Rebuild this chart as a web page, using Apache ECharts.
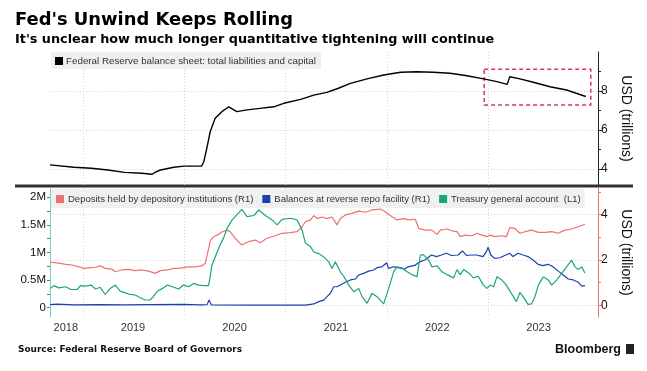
<!DOCTYPE html>
<html><head><meta charset="utf-8">
<script src="https://cdn.jsdelivr.net/npm/echarts@6/dist/echarts.min.js"></script>
<style>html,body{margin:0;padding:0;background:#fff}#c{width:647px;height:371px}</style>
</head><body><div id="c"></div>
<script>
// ---- data ----
const balanceSheet = [
 ['2018-09-05',4.21],['2018-11-30',4.09],['2019-02-01',4.04],['2019-04-01',3.95],['2019-06-01',3.83],
 ['2019-08-01',3.78],['2019-09-08',3.73],['2019-09-20',3.84],['2019-10-08',3.95],['2019-11-25',4.09],['2020-01-01',4.15],
 ['2020-03-04',4.15],['2020-03-12',4.37],['2020-03-24',5.14],['2020-04-04',5.91],['2020-04-22',6.60],
 ['2020-05-16',6.94],['2020-06-10',7.19],['2020-07-09',6.94],['2020-08-15',7.03],['2020-10-01',7.11],
 ['2020-11-19',7.19],['2020-12-25',7.37],['2021-02-24',7.57],['2021-04-12',7.79],['2021-05-29',7.93],
 ['2021-07-10',8.14],['2021-08-22',8.39],['2021-10-21',8.62],['2021-12-20',8.82],['2022-02-19',8.96],
 ['2022-04-18',8.99],['2022-06-17',8.96],['2022-08-16',8.91],['2022-10-16',8.78],['2022-12-15',8.62],
 ['2023-02-01',8.48],['2023-03-10',8.34],['2023-03-19',8.73],['2023-04-25',8.62],['2023-06-12',8.45],
 ['2023-08-11',8.22],['2023-10-10',8.05],['2023-12-18',7.72]
];
const deposits = [
 ['2018-09-05',1.90],['2018-10-07',1.86],['2018-11-01',1.81],['2018-11-24',1.78],['2018-12-18',1.70],
 ['2019-01-05',1.63],['2019-01-30',1.66],['2019-02-17',1.68],['2019-03-05',1.74],['2019-03-23',1.63],
 ['2019-04-16',1.60],['2019-04-28',1.48],['2019-05-22',1.56],['2019-06-15',1.59],['2019-07-09',1.53],
 ['2019-08-02',1.56],['2019-08-26',1.51],['2019-09-19',1.41],['2019-10-08',1.53],['2019-11-01',1.56],
 ['2019-11-25',1.63],['2019-12-13',1.63],['2019-12-31',1.66],['2020-01-18',1.70],['2020-02-11',1.70],
 ['2020-03-06',1.75],['2020-03-17',1.85],['2020-03-30',2.52],['2020-04-04',2.85],['2020-04-16',3.03],
 ['2020-05-04',3.13],['2020-05-17',3.25],['2020-06-04',3.32],['2020-06-15',3.25],['2020-07-03',2.96],
 ['2020-07-27',2.66],['2020-08-20',2.81],['2020-09-13',2.88],['2020-10-01',2.76],['2020-10-25',2.96],
 ['2020-11-24',3.07],['2020-12-18',3.18],['2021-01-18',3.21],['2021-02-11',3.25],['2021-03-01',3.47],
 ['2021-03-13',3.69],['2021-03-31',3.76],['2021-04-12',3.96],['2021-04-24',3.83],['2021-05-12',3.90],
 ['2021-05-30',3.83],['2021-06-17',3.90],['2021-07-05',3.55],['2021-07-17',3.83],['2021-08-04',3.99],
 ['2021-08-28',4.06],['2021-09-21',4.16],['2021-10-15',4.11],['2021-11-08',4.21],['2021-12-08',4.25],
 ['2021-12-26',4.13],['2022-01-19',3.91],['2022-02-06',3.77],['2022-03-02',3.83],['2022-03-20',3.77],
 ['2022-04-13',3.80],['2022-04-25',3.40],['2022-05-19',3.32],['2022-06-12',3.32],['2022-06-30',3.13],
 ['2022-07-12',3.32],['2022-08-05',3.37],['2022-08-23',3.29],['2022-09-10',3.25],['2022-09-22',3.03],
 ['2022-10-10',3.10],['2022-11-03',3.07],['2022-11-21',3.18],['2022-12-09',3.10],['2022-12-27',3.03],
 ['2023-01-08',3.10],['2023-01-26',3.03],['2023-02-19',3.07],['2023-03-07',3.03],['2023-03-19',3.43],
 ['2023-04-06',3.40],['2023-04-25',3.18],['2023-05-13',3.25],['2023-06-06',3.32],['2023-06-30',3.22],
 ['2023-07-25',3.22],['2023-08-18',3.25],['2023-09-10',3.18],['2023-10-04',3.32],['2023-10-28',3.37],
 ['2023-11-21',3.47],['2023-12-15',3.58]
];
const reverseRepo = [
 ['2018-09-05',0.03],['2018-10-01',0.05],['2018-12-01',0.02],['2019-03-01',0.03],['2019-06-01',0.02],
 ['2019-09-01',0.03],['2019-12-31',0.04],['2020-03-01',0.02],['2020-03-24',0.03],['2020-03-31',0.23],
 ['2020-04-08',0.02],['2020-09-01',0.01],['2021-03-13',0.01],['2021-04-12',0.06],['2021-04-30',0.16],
 ['2021-05-18',0.23],['2021-05-30',0.38],['2021-06-11',0.53],['2021-06-23',0.82],['2021-07-05',0.82],
 ['2021-07-17',0.90],['2021-08-04',1.02],['2021-08-22',1.12],['2021-09-09',1.16],['2021-09-21',1.34],
 ['2021-10-09',1.41],['2021-10-27',1.51],['2021-11-14',1.56],['2021-11-26',1.66],['2021-12-14',1.70],
 ['2021-12-31',1.88],['2022-01-06',1.63],['2022-01-24',1.70],['2022-02-11',1.66],['2022-03-06',1.60],
 ['2022-03-18',1.70],['2022-04-11',1.76],['2022-04-29',1.92],['2022-05-17',2.00],['2022-06-10',2.22],
 ['2022-06-28',2.15],['2022-07-16',2.22],['2022-08-03',2.30],['2022-08-21',2.20],['2022-09-14',2.22],
 ['2022-09-30',2.40],['2022-10-14',2.20],['2022-11-01',2.22],['2022-11-19',2.22],['2022-12-13',2.15],
 ['2022-12-25',2.37],['2022-12-31',2.56],['2023-01-10',2.22],['2023-01-24',2.07],['2023-02-12',2.10],
 ['2023-03-01',2.20],['2023-03-19',2.30],['2023-03-31',2.15],['2023-04-18',2.30],['2023-05-06',2.22],
 ['2023-05-24',2.15],['2023-06-11',2.00],['2023-06-29',1.81],['2023-07-17',1.75],['2023-08-04',1.81],
 ['2023-08-22',1.70],['2023-09-10',1.51],['2023-09-28',1.34],['2023-10-16',1.16],['2023-11-03',1.12],
 ['2023-11-21',1.02],['2023-12-03',0.85],['2023-12-15',0.87]
];
const treasuryAccount = [
 ['2018-09-05',350000],['2018-09-19',400000],['2018-10-07',360000],['2018-11-01',380000],['2018-11-19',330000],
 ['2018-12-12',330000],['2018-12-24',400000],['2019-01-12',390000],['2019-01-30',410000],['2019-02-17',340000],
 ['2019-03-05',370000],['2019-03-23',240000],['2019-04-10',350000],['2019-04-28',410000],['2019-05-16',300000],
 ['2019-06-03',270000],['2019-06-21',240000],['2019-07-09',230000],['2019-07-27',180000],['2019-08-14',140000],
 ['2019-09-01',140000],['2019-09-12',200000],['2019-09-27',300000],['2019-10-15',350000],['2019-11-02',410000],
 ['2019-11-20',380000],['2019-12-12',340000],['2019-12-30',410000],['2020-01-17',380000],['2020-02-04',440000],
 ['2020-02-22',410000],['2020-03-11',400000],['2020-03-29',400000],['2020-04-04',560000],['2020-04-10',770000],
 ['2020-04-22',920000],['2020-05-10',1140000],['2020-05-22',1260000],['2020-06-04',1440000],['2020-06-22',1590000],
 ['2020-07-03',1650000],['2020-07-27',1780000],['2020-08-15',1650000],['2020-09-08',1670000],['2020-09-26',1770000],
 ['2020-10-20',1670000],['2020-11-13',1590000],['2020-12-01',1500000],['2020-12-19',1600000],['2021-01-18',1620000],
 ['2021-02-11',1590000],['2021-03-01',1410000],['2021-03-13',1170000],['2021-03-31',1110000],['2021-04-12',1010000],
 ['2021-04-30',980000],['2021-05-18',920000],['2021-06-05',830000],['2021-06-17',710000],['2021-06-29',830000],
 ['2021-07-17',650000],['2021-07-29',570000],['2021-08-16',410000],['2021-09-03',290000],['2021-09-21',350000],
 ['2021-10-03',200000],['2021-10-21',80000],['2021-11-08',260000],['2021-11-26',200000],['2021-12-20',70000],
 ['2022-01-07',350000],['2022-01-25',650000],['2022-02-06',740000],['2022-02-24',720000],['2022-03-14',650000],
 ['2022-04-01',600000],['2022-04-19',560000],['2022-05-01',950000],['2022-05-12',960000],['2022-05-31',860000],
 ['2022-06-12',740000],['2022-06-30',760000],['2022-07-18',650000],['2022-08-05',600000],['2022-08-29',540000],
 ['2022-09-10',690000],['2022-09-22',600000],['2022-10-04',690000],['2022-10-22',630000],['2022-11-08',540000],
 ['2022-11-26',570000],['2022-12-14',410000],['2022-12-27',350000],['2023-01-08',410000],['2023-01-20',380000],
 ['2023-02-01',560000],['2023-02-19',500000],['2023-03-07',410000],['2023-03-25',260000],['2023-04-12',110000],
 ['2023-04-25',280000],['2023-05-06',200000],['2023-05-24',60000],['2023-06-06',70000],['2023-06-18',200000],
 ['2023-06-30',410000],['2023-07-18',560000],['2023-08-05',500000],['2023-08-17',410000],['2023-09-04',500000],
 ['2023-09-22',620000],['2023-10-10',740000],['2023-10-28',860000],['2023-11-09',740000],['2023-11-21',690000],
 ['2023-12-03',740000],['2023-12-15',630000]
];
// ---- axis ticks / labels ----
const xRange = ['2018-09-05','2024-01-31'];
const yearBoundaries = ['2019-01-01','2020-01-01','2021-01-01','2022-01-01','2023-01-01'];
const yearLabelDates = ['2018-11-01','2019-07-01','2020-07-01','2021-07-01','2022-07-01','2023-07-01'];
const topTicks = [4,6,8];
const topMinorTicks = [5,7,9];
const rightTicks = [0,2,4];
const rightMinorTicks = [1,3,5];
const leftLabels = [0,500000,1000000,1500000,2000000];
const leftTicks = [0,250000,500000,750000,1000000,1250000,1500000,1750000,2000000];
const highlightBox = {from:'2022-12-17', to:'2024-01-05', high:9.11, low:7.28};

const ts = d => Date.parse(d + 'T00:00:00Z');
const toXY = arr => arr.map(([d, v]) => [ts(d), v]);

const names = {
  bs:'Federal Reserve balance sheet: total liabilities and capital',
  dep:'Deposits held by depository institutions (R1)',
  rrp:'Balances at reverse repo facility (R1)',
  tga:'Treasury general account  (L1)'
};
const FONT = 'Liberation Sans';
const HEAD = 'DejaVu Sans';
const RED = '#ef7070', BLUE = '#1b3faf', GREEN = '#1aa57f';
const grid = {color:'#d4d4d4', type:[1,2], width:1};

const chart = echarts.init(document.getElementById('c'), null, {renderer:'canvas'});
const xBase = (gi, labels) => ({
  type:'value', gridIndex:gi, min:ts(xRange[0]), max:ts(xRange[1]),
  axisLine:{show:false}, axisTick:{show:false, customValues:yearBoundaries.map(ts)},
  splitLine:{show:true, lineStyle:grid},
  axisLabel: labels ? {customValues:yearLabelDates.map(ts), formatter:v=>String(new Date(v).getUTCFullYear()),
     fontFamily:FONT, fontSize:11, color:'#333', margin:5, hideOverlap:false} : {show:false}
});
chart.setOption({
  animation:false,
  textStyle:{fontFamily:FONT},
  title:[
    {text:"Fed's Unwind Keeps Rolling", left:15, top:11, padding:0, textStyle:{fontFamily:HEAD, fontSize:17.9, fontWeight:'bold', color:'#000'}},
    {text:"It's unclear how much longer quantitative tightening will continue", left:15, top:33, padding:0, textStyle:{fontFamily:HEAD, fontSize:12.8, fontWeight:'bold', color:'#000'}},
    {text:'Source: Federal Reserve Board of Governors', left:18, top:345, padding:0, textStyle:{fontFamily:HEAD, fontSize:8.95, fontWeight:'bold', color:'#111'}},
    {text:'Bloomberg', left:555, top:343, padding:0, textStyle:{fontFamily:FONT, fontSize:12.5, fontWeight:'bold', color:'#111'}}
  ],
  graphic:[
    {type:'line', shape:{x1:15, y1:186, x2:633, y2:186}, style:{stroke:'#333', lineWidth:3}},
    {type:'rect', shape:{x:626, y:344, width:8, height:10}, style:{fill:'#222'}}
  ],
  legend:[
    {data:[names.bs], left:51, top:52, backgroundColor:'#f0f0f0', padding:[4,5,3,4], icon:'rect', itemWidth:8, itemHeight:8, itemGap:6,
     textStyle:{fontFamily:FONT, fontSize:9.8, color:'#333', padding:[0,0,0,-2]}},
    {data:[{name:names.dep, itemStyle:{color:RED}},{name:names.rrp, itemStyle:{color:BLUE}},{name:names.tga, itemStyle:{color:GREEN}}],
     left:51, top:189, backgroundColor:'#f0f0f0', padding:[5,4,4,5], icon:'rect', itemWidth:8, itemHeight:8, itemGap:9,
     textStyle:{fontFamily:FONT, fontSize:9.5, color:'#333', padding:[0,0,0,-1]}}
  ],
  grid:[
    {left:50, right:49, top:52, height:133},
    {left:50, right:49, top:188, height:129}
  ],
  xAxis:[xBase(0,false), xBase(1,true)],
  yAxis:[
    {type:'value', gridIndex:0, position:'right', min:3.18, max:10,
     axisLine:{show:true, lineStyle:{color:'#222', width:1}},
     axisTick:{show:true, customValues:topTicks, length:4, lineStyle:{color:'#222'}},
     axisLabel:{customValues:topTicks, fontFamily:FONT, fontSize:12, color:'#111', margin:3},
     splitLine:{show:true, lineStyle:grid},
     name:'USD (trillions)', nameLocation:'middle', nameRotate:-90, nameGap:21,
     nameTextStyle:{fontFamily:FONT, fontSize:14, color:'#111'}},
    {type:'value', gridIndex:0, position:'right', min:3.18, max:10,
     axisLine:{show:false}, axisTick:{show:true, customValues:topMinorTicks, length:3, lineStyle:{color:'#222'}},
     axisLabel:{show:false}, splitLine:{show:false}},
    {type:'value', gridIndex:1, position:'right', min:-0.517, max:5.18,
     axisLine:{show:true, lineStyle:{color:RED, width:1}},
     axisTick:{show:true, customValues:rightTicks, length:4, lineStyle:{color:RED}},
     axisLabel:{customValues:rightTicks, fontFamily:FONT, fontSize:12, color:'#111', margin:3},
     splitLine:{show:true, lineStyle:grid},
     name:'USD (trillions)', nameLocation:'middle', nameRotate:-90, nameGap:21,
     nameTextStyle:{fontFamily:FONT, fontSize:14, color:'#111'}},
    {type:'value', gridIndex:1, position:'right', min:-0.517, max:5.18,
     axisLine:{show:false}, axisTick:{show:true, customValues:rightMinorTicks, length:3, lineStyle:{color:RED}},
     axisLabel:{show:false}, splitLine:{show:false}},
    {type:'value', gridIndex:1, position:'left', min:-168000, max:2168000,
     axisLine:{show:true, lineStyle:{color:'#7fcfc0', width:1}},
     axisTick:{show:true, customValues:leftTicks, length:3, lineStyle:{color:GREEN}},
     axisLabel:{customValues:leftLabels, formatter:v=> v===0 ? '0' : (v/1e6)+'M', fontFamily:FONT, fontSize:11.5, color:'#111', margin:4},
     splitLine:{show:false}}
  ],
  series:[
    {name:names.bs, type:'line', xAxisIndex:0, yAxisIndex:0, data:toXY(balanceSheet), symbol:'none',
     lineStyle:{color:'#000', width:1.4}, itemStyle:{color:'#000'},
     markArea:{silent:true, itemStyle:{color:'rgba(0,0,0,0)', borderColor:'#d8365e', borderWidth:1.5, borderType:[4,3]},
       data:[[{xAxis:ts(highlightBox.from), yAxis:highlightBox.high},{xAxis:ts(highlightBox.to), yAxis:highlightBox.low}]]}},
    {name:names.dep, type:'line', xAxisIndex:1, yAxisIndex:2, data:toXY(deposits), symbol:'none', lineStyle:{color:RED, width:1.2}, itemStyle:{color:RED}},
    {name:names.rrp, type:'line', xAxisIndex:1, yAxisIndex:2, data:toXY(reverseRepo), symbol:'none', lineStyle:{color:BLUE, width:1.2}, itemStyle:{color:BLUE}},
    {name:names.tga, type:'line', xAxisIndex:1, yAxisIndex:4, data:toXY(treasuryAccount), symbol:'none', lineStyle:{color:GREEN, width:1.2}, itemStyle:{color:GREEN}}
  ]
});
</script></body></html>
